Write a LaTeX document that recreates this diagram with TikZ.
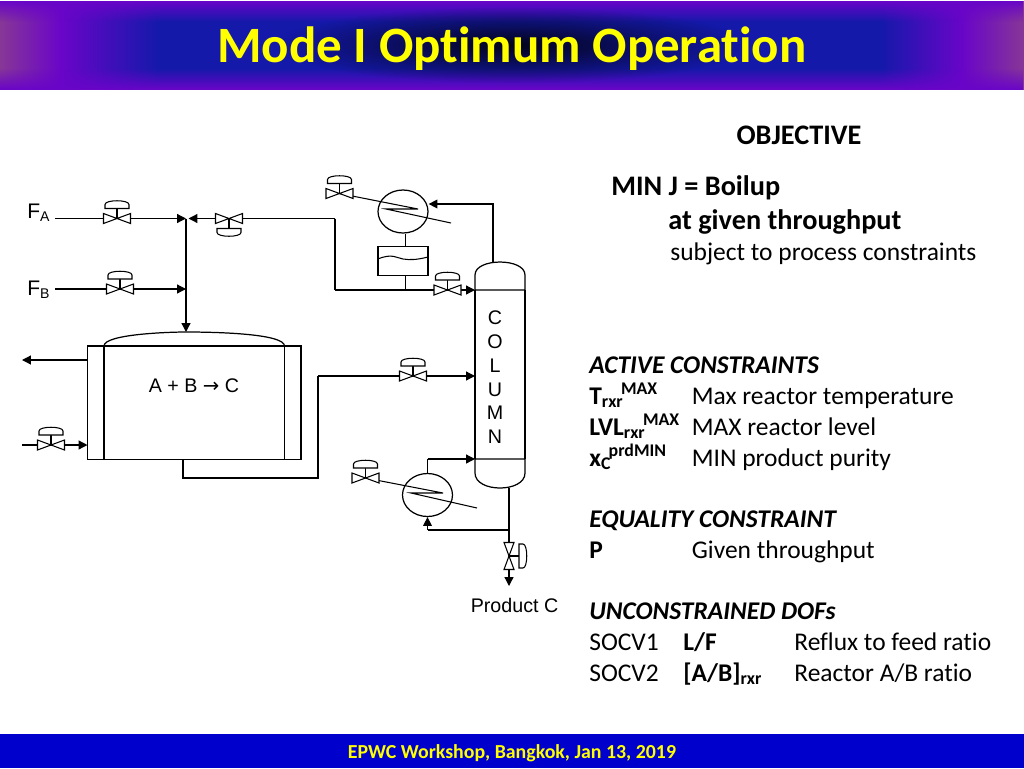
\documentclass[tikz,border=0pt]{standalone}
\usepackage{fontspec}
\setmainfont{Carlito}[Ligatures=CommonOff]
\newfontfamily\arialfont{Liberation Sans}
\newfontfamily\arrowfont{DejaVu Sans}
\usetikzlibrary{arrows, arrows.meta}
\usetikzlibrary{fadings}
\usetikzlibrary{shapes.geometric}
\definecolor{bandedge}{RGB}{135,55,150}
\definecolor{bandviolet}{RGB}{105,5,200}
\definecolor{bandblue}{RGB}{20,25,170}
\definecolor{footblue}{RGB}{0,0,205}
\definecolor{titleyellow}{RGB}{255,255,0}
\pgfdeclarehorizontalshading{bandshade}{100bp}{color(0bp)=(bandedge); color(25bp)=(bandedge); color(28bp)=(bandviolet); color(32.8bp)=(bandblue); color(68bp)=(bandblue); color(72bp)=(bandviolet); color(75bp)=(bandedge); color(100bp)=(bandedge)}
\tikzfading[name=bandglow, inner color=transparent!0, outer color=transparent!100]
\tikzset{
  pipe/.style={line width=0.7pt},
  flow/.style={pipe, -{Triangle[length=5pt, width=5pt]}},
  thin line/.style={line width=0.6pt},
  process/.style={font=\arialfont\fontsize{11.2}{13}\selectfont, inner sep=0pt},
  streamlabel/.style={font=\arialfont\fontsize{12}{14}\selectfont, anchor=base west, inner sep=0pt},
  rowtext/.style={anchor=base west, inner sep=0pt, font=\fontsize{14.5}{16}\selectfont},
  boldtext/.style={anchor=base west, inner sep=0pt, font=\fontsize{16.1}{18}\selectfont\bfseries},
  valve/.pic={
    \draw[thin line, fill=white] (-13.5,-5) -- (13.5,5) -- (13.5,-5) -- (-13.5,5) -- cycle;
    \draw[thin line] (0,0) -- (0,-10);
    \draw[thin line, fill=white] (-12,-10) -- (12,-10) -- (12,-14) .. controls (12,-19) and (-12,-19) .. (-12,-14) -- cycle;
  },
}
\begin{document}
\begin{tikzpicture}[x=0.02cm, y=-0.02cm, line join=miter]
  \useasboundingbox (0,0) rectangle (1024,768);

  % title band
  \shade[shading=bandshade] (0,1) rectangle (1024,89.5);
  \fill[bandviolet, path fading=south] (0,1) rectangle (1024,22);
  \fill[bandviolet, path fading=north] (0,68) rectangle (1024,89.5);
  \fill[black, opacity=0.85, path fading=bandglow] (512,45) ellipse (240 and 38);
  \node[text=titleyellow, font=\fontsize{29}{32}\selectfont\bfseries, anchor=base, inner sep=0pt] (title) at (512,62) {Mode I Optimum Operation};

  % footer
  \fill[footblue] (0,734) rectangle (1024,768);
  \node[text=titleyellow, font=\fontsize{11.3}{13}\selectfont\bfseries, anchor=base, inner sep=0pt] (foot) at (512,758) {EPWC Workshop, Bangkok, Jan 13, 2019};

  % points on the pipes
  \coordinate (fa) at (55,218.5);
  \coordinate (mix) at (186,218.5);
  \coordinate (recend) at (188.5,218.5);
  \coordinate (rec) at (335,218.5);
  \coordinate (fb) at (55,289);
  \coordinate (mixb) at (186,289);
  \coordinate (head) at (186,332);
  \coordinate (refl) at (335,290);
  \coordinate (reflin) at (475,290);
  \coordinate (drumout) at (405.5,290);
  \coordinate (cw1) at (87.5,360);
  \coordinate (cw1e) at (22,360);
  \coordinate (cw2s) at (22,445);
  \coordinate (cw2) at (87.5,445);
  \coordinate (vesout) at (183,459.5);
  \coordinate (vesdn) at (183,478);
  \coordinate (up) at (318,478);
  \coordinate (upt) at (318,376);
  \coordinate (feed) at (475,376);
  \coordinate (coltop) at (493,262);
  \coordinate (coltopb) at (493,204);
  \coordinate (colbot) at (509,488);
  \coordinate (split) at (509,530);
  \coordinate (prod) at (509,586);
  \coordinate (rebb) at (427.5,530);
  \coordinate (rebt) at (427.5,459);
  \coordinate (rebin) at (475,459);

  % condenser, drum, reboiler
  \node[draw, pipe, ellipse, minimum width=50*0.02cm, minimum height=43*0.02cm, inner sep=0pt] (cond) at (403,211.5) {};
  \node[draw, pipe, minimum width=50*0.02cm, minimum height=28.5*0.02cm, inner sep=0pt] (drum) at (403,261) {};
  \node[draw, pipe, ellipse, minimum width=50*0.02cm, minimum height=43*0.02cm, inner sep=0pt] (reb) at (427.5,495) {};

  % pipes
  \draw[flow] (fa) -- (mix);
  \draw[flow] (rec) -- (recend);
  \draw[pipe] (rec) -- (refl);
  \draw[flow] (refl) -- (reflin);
  \draw[flow] (fb) -- (mixb);
  \draw[flow] (mix) -- (head);
  \draw[flow] (cw1) -- (cw1e);
  \draw[flow] (cw2s) -- (cw2);
  \draw[pipe] (vesout) -- (vesdn) -- (up) -- (upt);
  \draw[flow] (upt) -- (feed);
  \draw[flow] (coltop) -- (coltopb) -- (cond.east |- coltopb);
  \draw[pipe] (cond.south -| drumout) -- (drum.north -| drumout);
  \draw[pipe] (drum.south -| drumout) -- (drumout);
  \draw[pipe] (colbot) -- (split);
  \draw[flow] (split) -- (prod);
  \draw[pipe] (split) -- (rebb);
  \draw[flow] (rebb) -- (reb.south);
  \draw[pipe] (reb.north) -- (rebt);
  \draw[flow] (rebt) -- (rebin);

  % cooling and heating coils
  \draw[thin line] (339.5,193.5) -- (418,209) -- (386,209) -- (451,223);
  \draw[thin line] (365.5,478) -- (443,493) -- (411,493) -- (477,508);
  \draw[thin line] (378,259) .. controls (392,253) and (397,258) .. (403,259) .. controls (410,260) and (416,260) .. (428,257);

  % reactor
  \draw[pipe] (87.5,346) rectangle (301,459.5);
  \draw[pipe] (104,346) -- (104,459.5);
  \draw[pipe] (284.5,346) -- (284.5,459.5);
  \draw[pipe] (104,346) .. controls (104,334) and (170,332) .. (head) .. controls (220,332) and (284.5,334) .. (284.5,346);

  % column
  \draw[pipe] (475,290) -- (475,275) .. controls (475,257.7) and (525,257.7) .. (525,275) -- (525,290) -- cycle;
  \draw[pipe] (475,290) -- (475,459) (525,290) -- (525,459);
  \draw[pipe] (475,459) -- (525,459) -- (525,473) .. controls (525,493) and (475,493) .. (475,473) -- cycle;

  % valves
  \pic at (117,218.5) {valve};
  \pic[yscale=-1] at (229,218.5) {valve};
  \pic at (120,289) {valve};
  \pic at (447.5,290) {valve};
  \pic at (339.5,193.5) {valve};
  \pic at (413,376) {valve};
  \pic at (51,445) {valve};
  \pic at (365.5,478) {valve};
  \pic[rotate=-90] at (509,556) {valve};

  % process labels
  \node[streamlabel] (fal) at (27,218.5) {F\textsubscript{A}};
  \node[streamlabel] (fbl) at (27,295) {F\textsubscript{B}};
  \node[process] (rxn) at (194,386) {A + B {\arrowfont →} C};
  \node[process] (prodl) at (514.5,605) {Product C};
  \foreach \ch [count=\i from 0] in {C,O,L,U,M,N} {
    \node[process] (col\i) at (495,{318+\i*23.8}) {\ch};
  }

  % objective
  \node[boldtext, anchor=base] (obj) at (799,144) {OBJECTIVE};
  \node[boldtext] (minj) at (611,195) {MIN J = Boilup};
  \node[boldtext] (atgiven) at (668,229) {at given throughput};
  \node[rowtext] (subj) at (670,260) {subject to process constraints};

  % constraints
  \node[rowtext] (act) at (589,373) {\bfseries\itshape ACTIVE CONSTRAINTS};
  \node[rowtext] (t1) at (589,404) {\bfseries T\textsubscript{rxr}\kern-1.5pt\textsuperscript{MAX}};
  \node[rowtext] (t2) at (691.5,404) {Max reactor temperature};
  \node[rowtext] (l1) at (589,435) {\bfseries LVL\textsubscript{rxr}\kern-1.5pt\textsuperscript{MAX}};
  \node[rowtext] (l2) at (691.5,435) {MAX reactor level};
  \node[rowtext] (x1) at (589,466) {\bfseries x\textsubscript{C}\kern-1.5pt\textsuperscript{prdMIN}};
  \node[rowtext] (x2) at (691.5,466) {MIN product purity};
  \node[rowtext] (eq) at (589,527) {\bfseries\itshape EQUALITY CONSTRAINT};
  \node[rowtext] (p1) at (589,558) {\bfseries P};
  \node[rowtext] (p2) at (691.5,558) {Given throughput};
  \node[rowtext] (unc) at (589,619) {\bfseries\itshape UNCONSTRAINED DOFs};
  \node[rowtext] (s1) at (589,650) {SOCV1};
  \node[rowtext] (s1b) at (683,650) {\bfseries L/F};
  \node[rowtext] (s1c) at (794,650) {Reflux to feed ratio};
  \node[rowtext] (s2) at (589,681) {SOCV2};
  \node[rowtext] (s2b) at (683,681) {\bfseries [A/B]\textsubscript{rxr}};
  \node[rowtext] (s2c) at (794,681) {Reactor A/B ratio};
\end{tikzpicture}
\end{document}
